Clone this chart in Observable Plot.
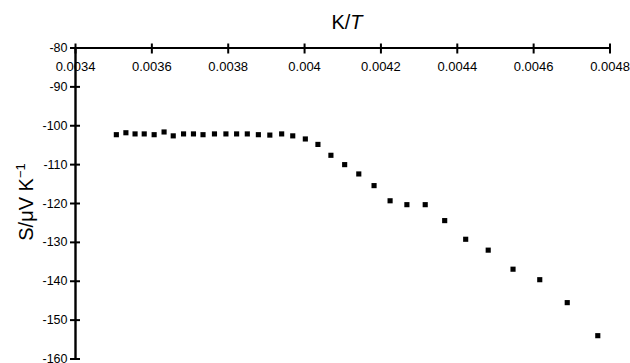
<!DOCTYPE html>
<html>
<head>
<meta charset="utf-8">
<script src="https://cdn.jsdelivr.net/npm/d3@7"></script>
<script src="https://cdn.jsdelivr.net/npm/@observablehq/plot@0.6"></script>
<style>
  html, body { margin: 0; padding: 0; background: #fff; }
</style>
</head>
<body>
<div id="chart"></div>
<script>
// Data (x = K/T, y = S in µV/K)
const xValues = [0.003507, 0.003532, 0.003556, 0.003580, 0.003606, 0.003632, 0.003656, 0.003683, 0.003709, 0.003734,
                 0.003764, 0.003794, 0.003822, 0.003850, 0.003879, 0.003909, 0.003940, 0.003969, 0.004002, 0.004035,
                 0.004069, 0.004105, 0.004142, 0.004182, 0.004224, 0.004268, 0.004316, 0.004367, 0.004422, 0.004481,
                 0.004546, 0.004616, 0.004688, 0.004768];
const yValues = [-102.3, -101.8, -102.1, -102.1, -102.3, -101.6, -102.6, -102.1, -102.1, -102.3,
                 -102.1, -102.1, -102.1, -102.1, -102.3, -102.4, -102.1, -102.6, -103.4, -104.8,
                 -107.6, -110.0, -112.4, -115.4, -119.3, -120.3, -120.3, -124.4, -129.2, -132.0,
                 -136.9, -139.6, -145.5, -154.0];

const xTicks = [0.0034, 0.0036, 0.0038, 0.0040, 0.0042, 0.0044, 0.0046, 0.0048];
const xTickLabels = ["0.0034", "0.0036", "0.0038", "0.004", "0.0042", "0.0044", "0.0046", "0.0048"];
const yTicks = [-80, -90, -100, -110, -120, -130, -140, -150, -160];
const yTickLabels = ["-80", "-90", "-100", "-110", "-120", "-130", "-140", "-150", "-160"];

const points = xValues.map((x, i) => ({x, y: yValues[i]}));

const chart = Plot.plot({
  width: 630,
  height: 363,
  marginLeft: 75,
  marginTop: 47.5,
  marginRight: 20.5,
  marginBottom: 4.5,
  x: {domain: [0.0034, 0.0048]},
  y: {domain: [-160, -80]},
  style: {fontFamily: "'Liberation Sans', Arial, sans-serif", fontSize: "13px", color: "black", background: "white", overflow: "visible"},
  marks: [
    // crossing tick marks
    Plot.axisX(xTicks, {anchor: "top", tickSize: 10, dy: 5, tickFormat: () => "", label: null, strokeWidth: 2}),
    Plot.axisY(yTicks, {anchor: "left", tickSize: 10, dx: 5, tickFormat: () => "", label: null, strokeWidth: 2}),
    // tick labels
    Plot.axisX(xTicks, {anchor: "top", tickSize: 0, tickPadding: 0, dy: 23, tickFormat: d => xTickLabels[xTicks.indexOf(d)], label: null, fontSize: 13}),
    Plot.axisY(yTicks, {anchor: "left", tickSize: 0, tickPadding: 8, tickFormat: d => yTickLabels[yTicks.indexOf(d)], label: null, fontSize: 12.5}),
    // axis lines
    Plot.ruleY([-80], {strokeWidth: 2.2}),
    Plot.ruleX([0.0034], {strokeWidth: 2.4}),
    // data
    Plot.dot(points, {x: "x", y: "y", symbol: "square", r: 2.9, fill: "black", stroke: null})
  ]
});

document.getElementById("chart").appendChild(chart);

// Axis titles with mixed styles
const svg = d3.select(chart);
const xt = svg.append("text")
  .attr("x", 347).attr("y", 29)
  .attr("text-anchor", "middle")
  .attr("font-size", 20)
  .attr("fill", "black");
xt.append("tspan").text("K/");
xt.append("tspan").attr("font-style", "italic").text("T");

const yt = svg.append("text")
  .attr("transform", "translate(33,202) rotate(-90)")
  .attr("text-anchor", "middle")
  .attr("font-size", 20)
  .attr("fill", "black");
yt.append("tspan").text("S/\u03BCV K");
yt.append("tspan").attr("font-size", 13).attr("dy", -8).text("\u22121");
</script>
</body>
</html>
